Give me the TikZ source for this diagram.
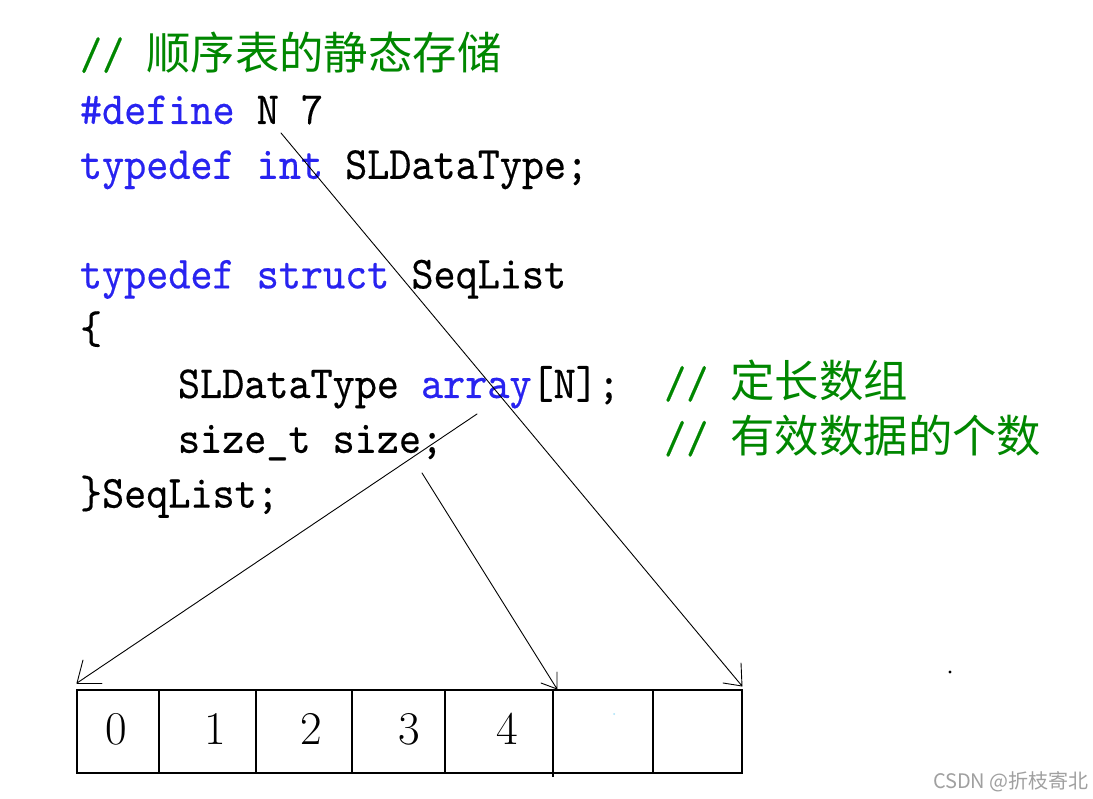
\documentclass[tikz,border=0pt]{standalone}
\usepackage{fontspec}
\newfontfamily\codefont{lmmono10-regular}[Extension=.otf,FakeStretch=0.915,FakeBold=0.35]
\newfontfamily\cjk{Noto Sans CJK SC}
\definecolor{kw}{RGB}{40,35,240}
\definecolor{cm}{RGB}{0,135,0}
\definecolor{wm}{RGB}{160,160,160}
\newcommand\zh[1]{{\cjk\fontsize{44.4}{50}\selectfont #1}}
\newcommand\kwd[1]{\textcolor{kw}{#1}}
\newcommand\cmt[1]{\textcolor{cm}{#1}}
\begin{document}
\begin{tikzpicture}[x=1pt,y=-1pt,
  code/.style={anchor=base west, inner sep=0pt, outer sep=0pt, font=\codefont\fontsize{46}{50}\selectfont},
  cell/.style={draw, line width=1.5pt, anchor=north west, inner sep=0pt, outer sep=0pt, minimum height=83pt},
  digit/.style={inner sep=0pt, font=\fontsize{47}{50}\selectfont},
  conn/.style={line width=0.9pt, line cap=round, line join=round}]
\useasboundingbox (0,0) rectangle (1093,799);
\fill[white] (0,0) rectangle (1093,799);

% code lines
\node[code] (l1) at (80,69.2) {\cmt{//~\zh{顺序表的静态存储}}};
\node[code] (l2) at (80,124) {\kwd{\#define}~N~7};
\node[code] (l3) at (80,178.8) {\kwd{typedef~int}~SLDataType;};
\node[code] (l5) at (80,288.4) {\kwd{typedef~struct}~SeqList};
\node[code] (l6) at (80,343.2) {\{};
\node[code] (l7) at (80,398) {\hspace*{98pt}SLDataType~\kwd{array}[N];~~\cmt{//~\zh{定长数组}}};
\node[code] (l8) at (80,452.8) {\hspace*{98pt}size\_t~size;~~~~~~~~~~\cmt{//~\zh{有效数据的个数}}};
\node[code] (l9) at (80,507.6) {\}SeqList;};

% array cells
\node[cell, minimum width=82pt] (c0) at (77,690) {};
\node[cell, minimum width=97pt] (c1) at (159,690) {};
\node[cell, minimum width=96pt] (c2) at (256,690) {};
\node[cell, minimum width=93pt] (c3) at (352,690) {};
\node[cell, minimum width=108pt] (c4) at (445,690) {};
\node[cell, minimum width=100pt] (c5) at (553,690) {};
\node[cell, minimum width=89pt] (c6) at (653,690) {};
\draw[line width=1.5pt] (c4.south east) -- ++(0,4);

\node[digit] (d0) at (116,729) {0};
\node[digit] (d1) at (215,729) {1};
\node[digit] (d2) at (311,729) {2};
\node[digit] (d3) at (409,729) {3};
\node[digit] (d4) at (507,729) {4};

% arrow sources and tips
\coordinate (sA) at (281,133);
\coordinate (sB) at (477,414);
\coordinate (sC) at (422,473);
\coordinate (tA) at ([yshift=4pt]c6.north east);
\coordinate (tB) at ([yshift=7pt]c0.north west);
\coordinate (tC) at ([xshift=4pt,yshift=1pt]c4.north east);

\draw[conn] (sA) -- (tA) -- ++(-1,-23);
\draw[conn] (tA) -- ++(-19,-3);
\draw[conn] (sB) -- (tB) -- ++(6,-23);
\draw[conn] (tB) -- ++(25,0);
\draw[conn] (sC) -- (tC) -- ++(0,-17);
\draw[conn] (tC) -- ++(-16,-6);

% stray dots
\fill (950,672) circle (1.6pt);
\fill[cyan!35] (614,714) circle (1pt);

% watermark
\node[anchor=east, inner sep=0pt, text=wm, font=\cjk\fontsize{20}{22}\selectfont] (wmk) at (1089,782) {CSDN @折枝寄北};
\end{tikzpicture}
\end{document}
